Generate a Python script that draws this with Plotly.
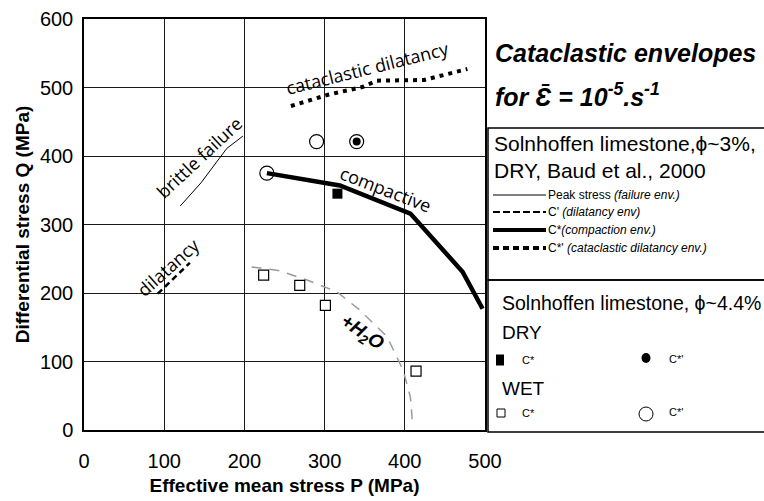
import plotly.graph_objects as go

# envelopes (P, Q in MPa)
brittle_p = [120, 146, 178, 198]
brittle_q = [327, 361, 411, 429]
dil_p = [92, 132]
dil_q = [199, 244]
cat_p = [258, 303, 348, 365, 424, 444, 478]
cat_q = [473, 489, 501, 510, 511, 517, 527]
comp_p = [228, 319, 407, 472, 497]
comp_q = [375, 357, 316, 231, 177]
wet_env_p = [209, 242, 278, 315, 344, 378, 398, 407, 410]
wet_env_q = [238, 233, 219, 202, 175, 136, 87, 48, 4]

# Solnhoffen 4.4% points
dry_cs_p = [316]
dry_cs_q = [345]
dry_csp_p = [340]
dry_csp_q = [421]
wet_cs_p = [224, 269, 301, 414]
wet_cs_q = [226, 211, 182, 86]
wet_csp_p = [228, 290]
wet_csp_q = [375, 421]

x_ticks = [0, 100, 200, 300, 400, 500]
y_ticks = [0, 100, 200, 300, 400, 500, 600]

ARIAL = "Liberation Sans, Arial, sans-serif"
HUMAN = "Open Sans, sans-serif"

fig = go.Figure()

fig.add_trace(go.Scatter(x=wet_env_p, y=wet_env_q, mode="lines",
                         line=dict(color="#9a9a9a", width=1.5, dash="10px,8px")))
fig.add_trace(go.Scatter(x=brittle_p, y=brittle_q, mode="lines",
                         line=dict(color="black", width=1)))
fig.add_trace(go.Scatter(x=dil_p, y=dil_q, mode="lines",
                         line=dict(color="black", width=2.5, dash="6px,4px")))
fig.add_trace(go.Scatter(x=cat_p, y=cat_q, mode="lines",
                         line=dict(color="black", width=4, dash="4px,5px")))
fig.add_trace(go.Scatter(x=comp_p, y=comp_q, mode="lines",
                         line=dict(color="black", width=4.5)))

fig.add_trace(go.Scatter(x=wet_cs_p, y=wet_cs_q, mode="markers",
                         marker=dict(symbol="square", size=10, color="white",
                                     line=dict(color="black", width=1.2))))
fig.add_trace(go.Scatter(x=dry_cs_p, y=dry_cs_q, mode="markers",
                         marker=dict(symbol="square", size=10, color="black")))
fig.add_trace(go.Scatter(x=wet_csp_p + dry_csp_p, y=wet_csp_q + dry_csp_q, mode="markers",
                         marker=dict(symbol="circle-open", size=14, color="black",
                                     line=dict(color="black", width=1.2))))
fig.add_trace(go.Scatter(x=dry_csp_p, y=dry_csp_q, mode="markers",
                         marker=dict(symbol="circle", size=8, color="black")))

# labels on the curves
labels = [
    ("brittle failure", 144, 398, -43, HUMAN, 18),
    ("dilatancy", 105, 238, -42, HUMAN, 18),
    ("cataclastic dilatancy", 353, 528, -14, HUMAN, 18),
    ("compactive", 376, 352, 21, HUMAN, 18),
    ("<b><i>+H<sub>2</sub>O</i></b>", 346, 141, 34, ARIAL, 19),
]
for txt, x, y, ang, fam, sz in labels:
    fig.add_annotation(x=x, y=y, text=txt, textangle=ang, showarrow=False,
                       font=dict(family=fam, size=sz, color="black"))


def px(xp):
    return (xp - 84) / 401


def py(yp):
    return (430 - yp) / 411


def note(txt, x, y, size, fam=ARIAL):
    fig.add_annotation(xref="paper", yref="paper", x=px(x), y=py(y), text=txt,
                       showarrow=False, xanchor="left", yanchor="middle",
                       font=dict(family=fam, size=size, color="black"))


note("<b><i>Cataclastic envelopes</i></b>", 493, 53, 25)
note("<b><i>for Ɛ̄ = 10<sup>-5</sup>.s<sup>-1</sup></i></b>", 493, 95, 25)

# boxes
fig.add_shape(type="rect", xref="paper", yref="paper", x0=px(488), x1=px(770),
              y0=py(280), y1=py(128), line=dict(color="black", width=1.5))
fig.add_shape(type="rect", xref="paper", yref="paper", x0=px(488), x1=px(770),
              y0=py(432), y1=py(280), line=dict(color="black", width=1.5))

note("Solnhoffen limestone,ϕ~3%,", 492, 143, 21)
note("DRY, Baud et al., 2000", 492, 170, 21)

leg = [
    (195, 1, None, "Peak stress <i>(failure env.)</i>"),
    (212, 2, "7px,3px", "C' <i>(dilatancy env)</i>"),
    (230, 4, None, "C*<i>(compaction env.)</i>"),
    (248, 4, "6px,4px", "C*' <i>(cataclastic dilatancy env.)</i>"),
]
for yy, w, d, txt in leg:
    fig.add_shape(type="line", xref="paper", yref="paper", x0=px(493), x1=px(546),
                  y0=py(yy), y1=py(yy),
                  line=dict(color="black", width=w, dash=d if d else "solid"))
    note(txt, 546, yy, 12)

note("Solnhoffen limestone, ϕ~4.4%", 500, 303, 19.5)
note("DRY", 500, 332, 19)
note("WET", 500, 388, 19)
note("C*", 520, 360, 11)
note("C*'", 667, 359, 11)
note("C*", 520, 413, 11)
note("C*'", 667, 412, 11)


def sym(kind, x, y, w, h, fill, lw):
    fig.add_shape(type=kind, xref="paper", yref="paper", xsizemode="pixel",
                  ysizemode="pixel", xanchor=px(x), yanchor=py(y),
                  x0=-w / 2, x1=w / 2, y0=-h / 2, y1=h / 2,
                  fillcolor=fill, line=dict(color="black", width=lw))


sym("rect", 500, 360, 8, 11, "black", 0)
sym("circle", 646, 358, 9, 10, "black", 0)
sym("rect", 501, 413, 8, 8, "white", 1)
sym("circle", 646, 414, 14, 14, "rgba(0,0,0,0)", 1)

axis_common = dict(showgrid=True, gridcolor="#1a1a1a", gridwidth=1.2, zeroline=False,
                   showline=True, mirror=True, linecolor="black", linewidth=1.5,
                   ticks="", automargin=False,
                   tickfont=dict(family=ARIAL, size=20, color="black"))

fig.update_xaxes(range=[0, 500], tickvals=x_ticks, ticklabelstandoff=12,
                 title=dict(text="<b>Effective mean stress P (MPa)</b>", standoff=8,
                            font=dict(family=ARIAL, size=19, color="black")),
                 **axis_common)
fig.update_yaxes(range=[0, 600], tickvals=y_ticks, ticklabelstandoff=5,
                 title=dict(text="<b>Differential stress Q (MPa)</b>", standoff=5,
                            font=dict(family=ARIAL, size=19, color="black")),
                 **axis_common)

fig.update_layout(
    width=764, height=501,
    margin=dict(l=84, r=279, t=19, b=71),
    paper_bgcolor="white", plot_bgcolor="white",
    showlegend=False,
)

# page body has a default 8px margin; drop it so the figure sits at the corner
fig.write_html("out.html", config={"displayModeBar": False},
               post_script="document.body.style.margin='0';")
